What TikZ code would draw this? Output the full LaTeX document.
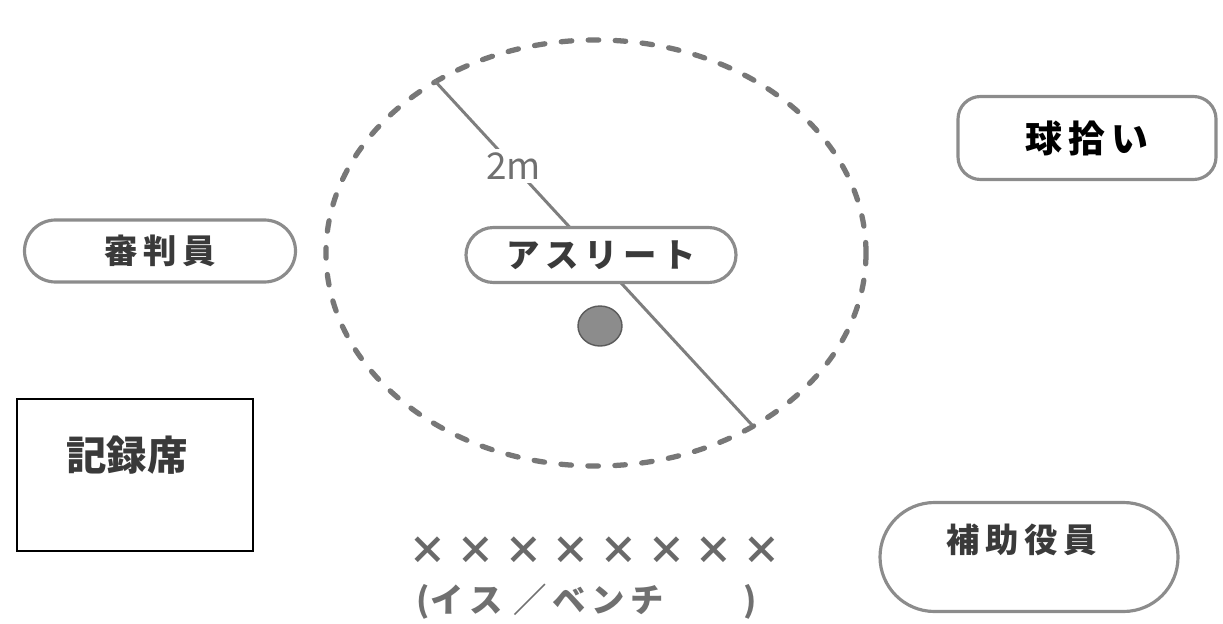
\documentclass[tikz,border=0pt]{standalone}
\usepackage{xcolor}
\usepackage{fontspec}
\setmainfont{Noto Sans CJK JP}
\usepackage{tikz}
\usetikzlibrary{positioning}
\definecolor{rand}{HTML}{8C8C8C}
\definecolor{schrift}{HTML}{3A3A3A}
\tikzstyle{pill} = [draw=rand, line width=1.8pt, fill=white, rounded corners=0.55cm,
 text=schrift, font=\fontsize{19}{22}\selectfont\bfseries, inner sep=0pt]
\tikzstyle{kreuz} = [text=rand!75!black, font=\fontsize{22}{24}\selectfont\bfseries, inner sep=0pt]

\begin{document}
\begin{tikzpicture}
	\useasboundingbox (0,0) rectangle (24.46,12.46); % Rahmen
	% Kreis um die Athletin
	\draw[rand!85!black, line width=3pt, line cap=round, dash pattern=on 0.21cm off 0.33cm] (11.92,7.40) ellipse (5.40cm and 4.26cm); % Grenze 2m
	\coordinate (randA) at (8.68,10.86); % oberes Ende
	\coordinate (randB) at (15.04,3.96); % unteres Ende
	\draw[rand!90!black, line width=1.7pt] (randA) -- (randB) node[pos=0.25, fill=white, text=rand!80!black, font=\fontsize{21}{24}\selectfont, inner sep=2pt] (masz) {2m}; % Radius
	\node[pill, minimum width=5.4cm, minimum height=1.1cm] (athlet) at (12.02,7.36) {ア\,ス\,リ\,ー\,ト}; % Athletin
	\fill[rand, draw=rand!65!black, line width=0.8pt] (12.00,5.94) ellipse (0.44cm and 0.40cm); % Ball
	% Personen
	\node[pill, minimum width=5.42cm, minimum height=1.24cm, rounded corners=0.62cm] (richter) at (3.20,7.44) {審\,判\,員}; % Kampfrichter
	\node[pill, minimum width=5.16cm, minimum height=1.66cm, rounded corners=0.45cm, text=black, font=\fontsize{21}{24}\selectfont\bfseries] (balljunge) at (21.74,9.70) {球\,拾\,い\hspace{0.5cm}}; % Balljunge
	\node[pill, minimum width=5.96cm, minimum height=2.18cm, rounded corners=1.09cm] (helfer) at (20.58,1.32) {}; % Hilfspersonal
	\node[text=schrift, font=\fontsize{19}{22}\selectfont\bfseries] (helfertext) at (20.44,1.66) {補\,助\,役\,員};
	% Protokoll
	\node[draw=black, line width=1.6pt, minimum width=4.72cm, minimum height=3.04cm] (protokoll) at (2.70,2.96) {}; % Tisch
	\node[font=\fontsize{23}{26}\selectfont\bfseries, text=schrift] (protokolltext) at (2.54,3.36) {記録席};
	% Stuehle
	\foreach \i in {0,...,7}
		\node[kreuz] (stuhl\i) at (8.56+0.954*\i,1.44) {×}; % Stuhl
	\node[text=rand!80!black, font=\fontsize{19}{22}\selectfont\bfseries] (bank) at (11.74,0.42) {(イ\,ス\,\,／\,ベ\,ン\,チ\hspace{1.6cm})}; % Bank
\end{tikzpicture}
\end{document}
